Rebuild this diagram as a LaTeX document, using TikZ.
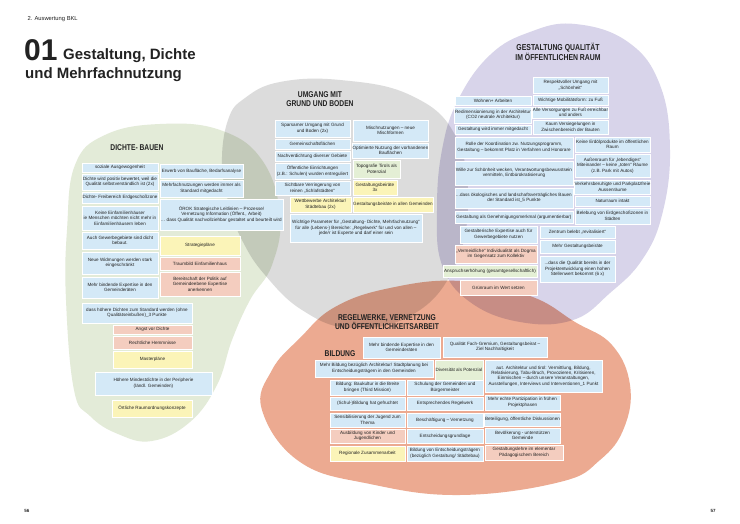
\documentclass[tikz,border=0pt]{standalone}
\usepackage{fontspec}
\setmainfont{Liberation Sans}
\newfontfamily\condb{Liberation Sans Bold}[FakeStretch=0.8]
\definecolor{bgreen}{HTML}{E3EBD8}
\definecolor{bgrey}{HTML}{DCDCDC}
\definecolor{bpurple}{HTML}{D8D4EA}
\definecolor{bsalmon}{HTML}{ECAA91}
\definecolor{cblue}{HTML}{D4E9F7}
\definecolor{cyellow}{HTML}{FBF4B8}
\definecolor{cpink}{HTML}{F4CDBF}
\definecolor{cgreen}{HTML}{E4EFD5}
\definecolor{ink}{HTML}{222222}
\tikzset{
  boxst/.style={rectangle, draw=white, line width=0.6pt, inner sep=0.4pt, align=center,
    text=ink, font=\fontsize{4.6}{5.4}\selectfont},
  blobtitle/.style={align=center, text=ink, font=\condb\fontsize{8.4}{9.6}\selectfont},
}
\newcommand\bx[7]{%
  \pgfmathsetmacro\bw{#5-#3}\pgfmathsetmacro\bh{#6-#4}%
  \pgfmathsetmacro\bcx{(#3+#5)/2}\pgfmathsetmacro\bcy{(#4+#6)/2}%
  \node[boxst, fill=#2, minimum width=\bw pt, minimum height=\bh pt] (#1) at (\bcx,\bcy) {#7};}
\begin{document}
\begin{tikzpicture}[x=1pt,y=-1pt]
\useasboundingbox (0,0) rectangle (740,524);
\fill[white] (0,0) rectangle (740,524);
% blobs
\begin{scope}[blend mode=multiply]
\fill[bgreen] plot[smooth cycle, tension=0.7] coordinates {(66,300) (67,230) (75,165) (105,135) (160,124) (220,130) (262,160) (280,215) (272,265) (250,300) (232,340) (217,385) (190,422) (152,441) (118,434) (90,416) (74,390)};
\fill[bgrey] plot[smooth cycle, tension=0.7] coordinates {(228,120) (222,165) (230,208) (243,242) (265,275) (302,310) (350,328) (410,316) (452,272) (468,205) (455,135) (410,95) (340,80) (280,82) (245,98)};
\fill[bpurple] plot[smooth cycle, tension=0.7] coordinates {(575,24) (628,42) (660,85) (670,150) (662,215) (642,260) (610,293) (573,320) (520,322) (470,302) (442,265) (437,210) (442,150) (458,100) (490,55) (530,32)};
\fill[bsalmon] plot[smooth cycle, tension=0.7] coordinates {(262,410) (272,370) (300,338) (335,307) (390,288) (460,281) (530,296) (575,322) (612,345) (630,385) (624,428) (600,460) (560,482) (460,495) (370,484) (300,462)};
\end{scope}
% header and title
\node[anchor=west, font=\fontsize{5.8}{7}\selectfont, text=ink] (hdr) at (24,19) {2. Auswertung BKL};
\node[anchor=base west, inner sep=0, font=\bfseries\fontsize{30}{30}\selectfont, text=ink] (num) at (24,61) {01};
\node[anchor=base west, inner sep=0, font=\bfseries\fontsize{15}{15}\selectfont, text=ink] (t1) at (63,60) {Gestaltung, Dichte};
\node[anchor=base west, inner sep=0, font=\bfseries\fontsize{15}{15}\selectfont, text=ink] (t2) at (25,79) {und Mehrfachnutzung};
\node[anchor=base, inner sep=0, font=\bfseries\fontsize{4.5}{5}\selectfont, text=ink] (pg1) at (27,512) {56};
\node[anchor=base, inner sep=0, font=\bfseries\fontsize{4.5}{5}\selectfont, text=ink] (pg2) at (713,512) {57};
% blob titles
\node[blobtitle] (tl) at (137,148) {DICHTE- BAUEN};
\node[blobtitle] (tc) at (320,99) {UMGANG MIT\\GRUND UND BODEN};
\node[blobtitle, font=\condb\fontsize{8.6}{10.5}\selectfont] (tr) at (558,52) {GESTALTUNG QUALITÄT\\IM ÖFFENTLICHEN RAUM};
\node[blobtitle] (tb) at (387,322) {REGELWERKE, VERNETZUNG\\UND ÖFFENTLICHKEITSARBEIT};
\node[blobtitle] (tbild) at (340,354) {BILDUNG};
% left blob
\bx{l1}{cblue}{82}{163}{158}{172}{soziale Ausgewogenheit}
\bx{l2}{cblue}{82}{174}{158}{190}{Dichte wird positiv bewertet, weil die\\Qualität selbstverständlich ist (2x)}
\bx{l3}{cblue}{82}{192}{158}{203}{Dichte- Freibereich Erdgeschoßzone}
\bx{l4}{cblue}{82}{206}{158}{230}{Keine Einfamilienhäuser\\ie Menschen möchten nicht mehr in\\Einfamilienhäusern leben}
\bx{l5}{cblue}{82}{232}{158}{249}{Auch Gewerbegebiete sind dicht\\bebaut.}
\bx{l6}{cblue}{82}{252}{158}{274}{Neue Widmungen werden stark\\eingeschränkt}
\bx{l7}{cblue}{82}{277}{158}{298}{Mehr bindende Expertise in den\\Gemeinderäten}
\bx{l8}{cblue}{160}{164}{243}{178}{Erwerb von Baufläche, Bedarfsanalyse}
\bx{l9}{cblue}{160}{180}{243}{197}{Mehrfachnutzungen werden immer als\\Standard mitgedacht}
\bx{l10}{cblue}{160}{199}{283}{230}{ÖROK Strategische Leitlinien – Prozesse/\\Vernetzung Information (Öffent., Arbeit)\\... dass Qualität nachvollziehbar gestaltet und beurteilt wird}
\bx{l11}{cyellow}{160}{236}{240}{255}{Strategiepläne}
\bx{l12}{cpink}{160}{257}{240}{270}{Traumbild Einfamilienhaus}
\bx{l13}{cpink}{160}{272}{240}{296}{Bereitschaft der Politik auf\\Gemeindeebene Expertise\\anerkennen}
\bx{l14}{cblue}{82}{303}{192}{323}{dass höhere Dichten zum Standard werden (ohne\\Qualitätseinbußen)\_3 Punkte}
\bx{l15}{cpink}{113}{325}{192}{334}{Angst vor Dichte}
\bx{l16}{cpink}{113}{336}{192}{349}{Rechtliche Hemmnisse}
\bx{l17}{cyellow}{113}{351}{192}{368}{Masterpläne}
\bx{l18}{cblue}{95}{372}{212}{395}{Höhere Mindestdichte in der Peripherie\\(ländl. Gemeinden)}
\bx{l19}{cyellow}{112}{400}{192}{417}{Örtliche Raumordnungskonzepte}
% centre blob
\bx{g1}{cblue}{275}{120}{350}{137}{Sparsamer Umgang mit Grund\\und Boden (2x)}
\bx{g2}{cblue}{275}{139}{350}{149}{Gemeinschaftsflächen}
\bx{g3}{cblue}{275}{151}{350}{161}{Nachverdichtung diverser Gebiete}
\bx{g4}{cblue}{275}{163}{350}{179}{Öffentliche Einrichtungen\\(z.B.: Schulen) wurden entreguliert}
\bx{g5}{cblue}{275}{181}{350}{195}{Sichtbare Verringerung von\\reinen „Schlafstädten“}
\bx{g6}{cyellow}{290}{197}{351}{212}{Wettbewerbe Architektur/\\Städtebau (2x)}
\bx{g7}{cblue}{290}{214}{422}{242}{Wichtige Parameter für „Gestaltung- Dichte, Mehrfachnutzung“\\für alle (Lebens-) Bereiche: „Regelwerk“ für und von allen –\\jede/r ist Experte und darf einer sein}
\bx{g8}{cblue}{353}{120}{428}{141}{Mischnutzungen – neue\\Mischformen}
\bx{g9}{cblue}{353}{143}{428}{158}{Optimierte Nutzung der vorhandenen\\Bauflächen}
\bx{g10}{cgreen}{353}{160}{400}{178}{Topografie Tirols als\\Potenzial}
\bx{g11}{cyellow}{353}{180}{397}{195}{Gestaltungsbeiräte\\3x}
\bx{g12}{cyellow}{353}{197}{433}{212}{Gestaltungsbeiräte in allen Gemeinden}
% right blob
\bx{p1}{cblue}{533}{77}{608}{93}{Respektvoller Umgang mit\\„Schönheit“}
\bx{p2}{cblue}{533}{95}{608}{105}{Wichtige Mobilitätsform: zu Fuß}
\bx{p3}{cblue}{533}{107}{608}{118}{Alle Versorgungen zu Fuß erreichbar\\und anders}
\bx{p4}{cblue}{533}{120}{608}{134}{Kaum Versiegelungen in\\Zwischenbereich der Bauten}
\bx{p5}{cblue}{455}{96}{531}{105}{Wohnen+ Arbeiten}
\bx{p6}{cblue}{455}{107}{531}{123}{Redimensionierung in der Architektur\\(CO2 neutrale Architektur)}
\bx{p7}{cblue}{455}{125}{531}{134}{Gestaltung wird immer mitgedacht}
\bx{p8}{cblue}{455}{137}{573}{158}{Rolle der Koordination zw. Nutzungsprogramm,\\Gestaltung – bekommt Platz in Verfahren und Honorare}
\bx{p9}{cblue}{575}{137}{650}{152}{Keine Erdölprodukte im öffentlichen\\Raum}
\bx{p10}{cblue}{575}{154}{650}{177}{Außenraum für „lebendiges“\\Miteinander – keine „toten“ Räume\\(z.B. Park mit Autos)}
\bx{p11}{cblue}{455}{161}{573}{185}{Wille zur Schönheit wecken, Verantwortungsbewusstsein\\vermitteln, Entbürokratisierung}
\bx{p12}{cblue}{575}{180}{650}{194}{Verkehrsberuhigte und Parkplatzfreie\\Aussenräume}
\bx{p13}{cblue}{575}{196}{650}{206}{Naturraum intakt}
\bx{p14}{cblue}{455}{188}{573}{208}{...dass ökologisches und landschaftsverträgliches Bauen\\der Standard ist\_5 Punkte}
\bx{p15}{cblue}{575}{208}{650}{224}{Belebung von Erdgeschoßzonen in\\Städten}
\bx{p16}{cblue}{455}{211}{573}{223}{Gestaltung als Genehmigungsmerkmal (argumentierbar)}
\bx{p17}{cblue}{460}{226}{537}{243}{Gestalterische Expertise auch für\\Gewerbegebiete nutzen}
\bx{p18}{cblue}{540}{226}{615}{238}{Zentrum belebt „revitalisiert“}
\bx{p19}{cpink}{455}{245}{537}{263}{„Vermeidliche“ Individualität als Dogma\\im Gegensatz zum Kollektiv}
\bx{p20}{cblue}{540}{240}{615}{253}{Mehr Gestaltungsbeiräte}
\bx{p21}{cgreen}{443}{265}{537}{277}{Anspruchserhöhung (gesamtgesellschaftlich)}
\bx{p22}{cblue}{540}{256}{615}{282}{...dass die Qualität bereits in der\\Projektentwicklung einen hohen\\Stellenwert bekommt (6 x)}
\bx{p23}{cpink}{460}{280}{537}{295}{Grünraum im Wert setzen}
% bottom blob
\bx{s1}{cblue}{363}{337}{440}{358}{Mehr bindende Expertise in den\\Gemeinderäten}
\bx{s2}{cblue}{443}{337}{547}{357}{Qualität Fach-Gremium, Gestaltungsbeirat –\\Ziel Nachhaltigkeit}
\bx{s3}{cblue}{315}{360}{433}{377}{Mehr Bildung bezüglich Architektur/ Stadtplanung bei\\Entscheidungsträgern in den Gemeinden}
\bx{s4}{cgreen}{435}{360}{483}{380}{Diversität als Potenzial}
\bx{s5}{cblue}{485}{360}{602}{392}{aut. Architektur und tirol: Vermittlung, Bildung,\\Relativierung, Tabu-Bruch, Provozieren, Kritisieren,\\Einmischen – durch unsere Veranstaltungen,\\Ausstellungen, Interviews und Interventionen\_1 Punkt}
\bx{s6}{cblue}{330}{380}{405}{395}{Bildung: Baukultur in die Breite\\bringen (Third Mission)}
\bx{s7}{cblue}{407}{380}{483}{395}{Schulung der Gemeinden und\\Bürgermeister}
\bx{s8}{cblue}{330}{397}{405}{410}{(Schul-)Bildung hat gefruchtet}
\bx{s9}{cblue}{407}{397}{483}{410}{Entsprechendes Regelwerk}
\bx{s10}{cblue}{485}{395}{560}{410}{Mehr echte Partizipation in frühen\\Projektphasen}
\bx{s11}{cblue}{330}{413}{405}{427}{Sensibilisierung der Jugend zum\\Thema}
\bx{s12}{cblue}{407}{413}{483}{427}{Beschäftigung – Vernetzung}
\bx{s13}{cblue}{485}{413}{560}{426}{Beteiligung, öffentliche Diskussionen}
\bx{s14}{cpink}{330}{429}{405}{443}{Ausbildung von Kinder und\\Jugendlichen}
\bx{s15}{cblue}{407}{429}{483}{443}{Entscheidungsgrundlage}
\bx{s16}{cblue}{485}{428}{560}{443}{Bevölkerung - unterstützen\\Gemeinde}
\bx{s17}{cyellow}{330}{446}{405}{461}{Regionale Zusammenarbeit}
\bx{s18}{cblue}{407}{446}{483}{461}{Bildung von Entscheidungsträgern\\(bezüglich Gestaltung/ Städtebau)}
\bx{s19}{cpink}{485}{445}{563}{460}{Gestaltungslehre im elementar\\Pädagogischem Bereich}
\end{tikzpicture}
\end{document}
